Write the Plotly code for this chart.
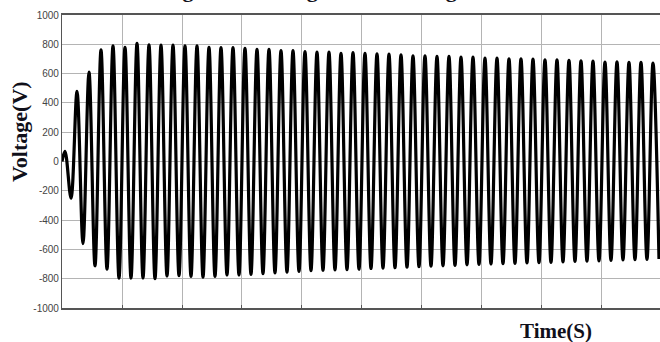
import plotly.graph_objects as go

# Extrema of the 50 Hz waveform
pos_times = [0.005, 0.025, 0.045, 0.065, 0.085, 0.105, 0.125, 0.145, 0.165, 0.185,
             0.205, 0.225, 0.245, 0.265, 0.285, 0.305, 0.325, 0.345, 0.365, 0.385,
             0.405, 0.425, 0.445, 0.465, 0.485, 0.505, 0.525, 0.545, 0.565, 0.585,
             0.605, 0.625, 0.645, 0.665, 0.685, 0.705, 0.725, 0.745, 0.765, 0.785,
             0.805, 0.825, 0.845, 0.865, 0.885, 0.905, 0.925, 0.945, 0.965, 0.985]
pos_peaks = [70, 478, 610, 762, 789, 780, 807, 796, 794, 795,
             789, 789, 780, 778, 778, 773, 766, 766, 757, 757,
             750, 746, 746, 739, 744, 739, 735, 733, 728, 721,
             721, 717, 717, 712, 712, 705, 705, 701, 701, 699,
             694, 694, 690, 687, 685, 678, 680, 676, 676, 671]
neg_times = [0.015, 0.035, 0.055, 0.075, 0.095, 0.115, 0.135, 0.155, 0.175, 0.195,
             0.215, 0.235, 0.255, 0.275, 0.295, 0.315, 0.335, 0.355, 0.375, 0.395,
             0.415, 0.435, 0.455, 0.475, 0.495, 0.515, 0.535, 0.555, 0.575, 0.595,
             0.615, 0.635, 0.655, 0.675, 0.695, 0.715, 0.735, 0.755, 0.775, 0.795,
             0.815, 0.835, 0.855, 0.875, 0.895, 0.915, 0.935, 0.955, 0.975, 0.995]
neg_peaks = [-250, -560, -712, -735, -796, -796, -796, -800, -782, -780,
             -785, -790, -785, -775, -775, -770, -765, -760, -755, -750,
             -745, -742, -740, -738, -735, -730, -728, -725, -722, -718,
             -715, -712, -710, -705, -703, -700, -698, -695, -692, -690,
             -688, -685, -682, -680, -678, -675, -672, -670, -668, -665]
start_time = [0.0]
start_value = [0]

y_ticks = [1000, 800, 600, 400, 200, 0, -200, -400, -600, -800, -1000]

t = list(start_time)
v = list(start_value)
for tp, vp, tn, vn in zip(pos_times, pos_peaks, neg_times, neg_peaks):
    t += [tp, tn]
    v += [vp, vn]

fig = go.Figure()
fig.add_trace(go.Scatter(x=t, y=v, mode="lines",
                         line=dict(color="black", width=3.2, shape="spline", smoothing=1.0),
                         showlegend=False, hoverinfo="skip"))

fig.update_layout(
    width=660, height=342,
    margin=dict(l=62, r=0, t=15, b=34),
    paper_bgcolor="white", plot_bgcolor="white",
    showlegend=False,
)
fig.update_xaxes(range=[0, 0.9967], dtick=0.1, tick0=0, showticklabels=False,
                 showgrid=True, gridcolor="#b4b4b4", gridwidth=1,
                 showline=True, linecolor="#555555", linewidth=1.5, mirror=True,
                 ticks="inside", ticklen=3, tickcolor="#555555", zeroline=False)
fig.update_yaxes(range=[-1000, 1000], tickvals=y_ticks, ticktext=[str(x) for x in y_ticks],
                 showgrid=True, gridcolor="#b4b4b4", gridwidth=1,
                 showline=True, linecolor="#555555", linewidth=1.2, mirror=False,
                 ticks="", zeroline=False,
                 tickfont=dict(family="Liberation Sans", size=10, color="#444444"))

fig.add_annotation(text="<b>Voltage(V)</b>", xref="paper", yref="paper",
                   x=-62/598 + 19/598, y=(342 - 34 - 131) / 293, xanchor="center", yanchor="middle",
                   textangle=-90, showarrow=False,
                   font=dict(family="Liberation Serif", size=22, color="#10101a"))
fig.add_annotation(text="<b>Time(S)</b>", xref="paper", yref="paper",
                   x=(556 - 62) / 598, y=-(331 - 308) / 293, xanchor="center", yanchor="middle",
                   showarrow=False,
                   font=dict(family="Liberation Serif", size=21, color="#10101a"))
fig.add_annotation(text="<b>Figure 14 Voltage across Voltage Source</b>", xref="paper", yref="paper",
                   x=(350 - 62) / 598, y=1 + 11 / 293, xanchor="center", yanchor="bottom",
                   showarrow=False,
                   font=dict(family="Liberation Serif", size=22, color="#10101a"))

fig.write_html("out.html")
